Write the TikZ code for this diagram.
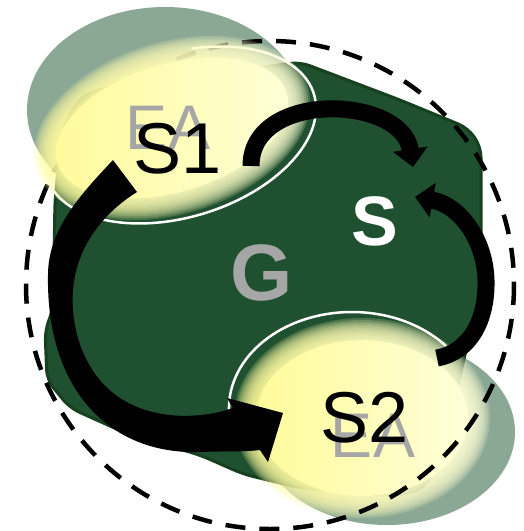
\documentclass[tikz,border=0pt]{standalone}
\usepackage{fontspec}
\setmainfont{Liberation Sans}
\usetikzlibrary{arrows.meta}
\definecolor{blobgreen}{HTML}{1F5130}
\definecolor{blobedge}{HTML}{17401F}
\definecolor{eagray}{HTML}{8AA894}
\definecolor{ylwleft}{HTML}{FFFB9A}
\definecolor{ylwright}{HTML}{FEFED8}
\definecolor{lblgray}{HTML}{A6A6A6}

\begin{document}
\begin{tikzpicture}[x=1pt, y=-1pt,
    glow/.style={left color=ylwleft, right color=ylwright, fill opacity=0.2},
    core/.style={left color=ylwleft, right color=ylwright},
    rim/.style={draw=white, line width=2.5pt},
    flow/.style={line width=17pt, -{Triangle[width=34pt, length=18pt]}},
    sname/.style={inner sep=0pt, font=\fontsize{72}{72}\selectfont},
    eatext/.style={inner sep=0pt, text=lblgray, font=\fontsize{63}{63}\selectfont}]
    \useasboundingbox (0,0) rectangle (524,531);

    % pale environment ellipses
    \fill[eagray] (165,110) ellipse [x radius=138, y radius=103];
    \fill[eagray] (387,432) ellipse [x radius=128, y radius=93];

    % green body
    \filldraw[fill=blobgreen, draw=blobedge, line width=3pt, rounded corners=10pt]
      (95,90) -- (300,62) -- (400,100) -- (468,128) -- (481,147) -- (481,320)
      -- (468,342) -- (445,440) -- (425,488) -- (395,496) -- (300,488)
      -- (243,474) -- (200,455) -- (130,435) -- (70,408) -- (47,380)
      -- (45,330) -- (53,310) -- (55,200) -- (62,130) -- (78,100) -- cycle;

    % lower yellow spot
    \draw[rim] (352,408) ++(160:123 and 96) arc[start angle=160, end angle=320, x radius=123, y radius=96];
    \foreach \d in {12,10,...,-8}
      \shade[glow] (362,418) ellipse [x radius=116+\d, y radius=88+\d];
    \shade[core] (362,418) ellipse [x radius=106, y radius=78];

    \draw[line width=4.5pt, dash pattern=on 20pt off 14pt] (270,285) circle [radius=244];

    % upper yellow spot
    \draw[rim, rotate around={17:(180,135)}] (180,135) ++(-75:140 and 82) arc[start angle=-75, end angle=175, x radius=140, y radius=82];
    \foreach \d in {12,10,...,-8}
      \shade[glow, rotate around={17:(172,128)}] (172,128) ellipse [x radius=130+\d, y radius=74+\d];
    \shade[core, rotate around={17:(172,128)}] (172,128) ellipse [x radius=120, y radius=64];

    % labels
    \node[eatext] (ea1) at (168,128) {EA};
    \node[sname] (s1) at (178,149) {S1};
    \node[eatext] (ea2) at (373,436) {EA};
    \node[sname] (s2) at (365,418) {S2};
    \node[inner sep=0pt, text=white, font=\bfseries\fontsize{70}{70}\selectfont] (s) at (375,221) {S};
    \node[inner sep=0pt, text=lblgray, font=\bfseries\fontsize{80}{80}\selectfont] (g) at (262,273) {G};

    % arrows
    \coordinate (s1top) at (251,166);
    \coordinate (sleft) at (413,167);
    \coordinate (s2top) at (437,358);
    \coordinate (sright) at (415,197);
    \draw[flow] (s1top) .. controls (251,90) and (402,95) .. (sleft);
    \draw[flow] (s2top) .. controls (470,352) and (487,320) .. (486,280)
      .. controls (485,240) and (460,205) .. (sright);

    % wide arrow S1 -> S2
    \fill (113,160) .. controls (80,195) and (48,230) .. (48,275)
      .. controls (46,390) and (110,455) .. (200,452)
      .. controls (225,451) and (245,452) .. (260,450)
      -- (268,462) -- (283,413) -- (227,398) -- (233,408)
      .. controls (195,421) and (150,418) .. (120,398)
      .. controls (85,375) and (70,330) .. (73,290)
      .. controls (76,250) and (100,215) .. (137,192) -- cycle;
\end{tikzpicture}
\end{document}
